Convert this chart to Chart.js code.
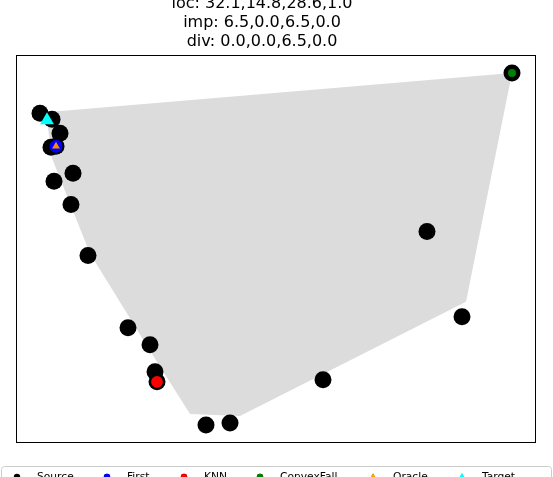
<!DOCTYPE html>
<html>
<head>
<meta charset="utf-8">
<script src="https://cdn.jsdelivr.net/npm/chart.js@4/dist/chart.umd.min.js"></script>
<style>
html,body{margin:0;padding:0;background:#fff;}
canvas{display:block;}
</style>
</head>
<body>
<canvas id="c" width="553" height="477"></canvas>
<script>
// Data (x right, y up)
const titleLines = ["loc: 32.1,14.8,28.6,1.0", "imp: 6.5,0.0,6.5,0.0", "div: 0.0,0.0,6.5,0.0"];
const legendLabels = ["Source", "First", "KNN", "ConvexFall", "Oracle", "Target"];

const sourceX = [40, 52, 60, 51, 56, 54, 73, 71, 88, 128, 150, 155, 157, 206, 230, 323, 427, 462, 512];
const sourceY = [364, 358, 344, 330, 331, 296, 304, 273, 222, 150, 133, 106, 96, 53, 55, 98, 246, 161, 404];

const hullX = [46, 512, 466, 240, 190, 150, 90, 52, 46];
const hullY = [365, 404, 176, 62, 64, 127, 224, 319, 365];

const firstX = [56], firstY = [331];
const knnX = [157], knnY = [96];
const convexX = [512], convexY = [404];
const oracleX = [56], oracleY = [331];
const targetX = [47], targetY = [357];

const xRange = [16, 536];
const yRange = [36, 422];

function pts(xs, ys) { return xs.map((x, i) => ({x: x, y: ys[i]})); }

const legendColors = ['#000000', '#0000ff', '#ff0000', '#008000', '#ffa500', '#00ffff'];
const legendStyles = ['circle', 'circle', 'circle', 'circle', 'triangle', 'triangle'];
const legendPos = [17, 107, 184, 260, 373, 462];

const decor = {
  id: 'decor',
  afterDraw(chart) {
    const ctx = chart.ctx;
    const a = chart.chartArea;
    ctx.save();
    // frame
    ctx.strokeStyle = '#000';
    ctx.lineWidth = 1;
    ctx.strokeRect(Math.round(a.left) + 0.5, Math.round(a.top) + 0.5, Math.round(a.right - a.left) - 1, Math.round(a.bottom - a.top));
    // title
    ctx.fillStyle = '#000';
    ctx.font = '16px "DejaVu Sans"';
    ctx.textAlign = 'center';
    ctx.textBaseline = 'alphabetic';
    titleLines.forEach((t, i) => ctx.fillText(t, 262, 8 + i * 19));
    // legend box
    ctx.strokeStyle = '#cccccc';
    ctx.fillStyle = 'rgba(255,255,255,0.8)';
    ctx.beginPath();
    if (ctx.roundRect) ctx.roundRect(1.5, 466.5, 550, 30, 3); else ctx.rect(1.5, 466.5, 550, 30);
    ctx.fill();
    ctx.stroke();
    ctx.font = '10.7px "DejaVu Sans"';
    ctx.textAlign = 'left';
    legendLabels.forEach((lab, i) => {
      const x = legendPos[i];
      Chart.helpers.drawPoint(ctx, {pointStyle: legendStyles[i], radius: 3.2, borderWidth: 0}, x, 477);
      ctx.fillStyle = legendColors[i];
      ctx.beginPath();
      if (legendStyles[i] === 'circle') {
        ctx.arc(x, 477, 3.2, 0, Math.PI * 2);
      } else {
        ctx.moveTo(x, 473); ctx.lineTo(x + 3.5, 479); ctx.lineTo(x - 3.5, 479); ctx.closePath();
      }
      ctx.fill();
      ctx.fillStyle = '#000';
      ctx.fillText(lab, x + 20, 480);
    });
    ctx.restore();
  }
};

new Chart(document.getElementById('c'), {
  type: 'scatter',
  data: {
    datasets: [
      {label: 'hull', data: pts(hullX, hullY), showLine: true, fill: 'shape', backgroundColor: '#dcdcdc', borderWidth: 0, borderColor: 'rgba(0,0,0,0)', pointRadius: 0, order: 10},
      {label: legendLabels[0], data: pts(sourceX, sourceY), backgroundColor: '#000', borderColor: '#000', borderWidth: 0, pointRadius: 8.5, order: 6},
      {label: legendLabels[1], data: pts(firstX, firstY), backgroundColor: '#0000ff', borderColor: '#000', borderWidth: 1.2, pointRadius: 7, order: 5},
      {label: legendLabels[2], data: pts(knnX, knnY), backgroundColor: '#ff0000', borderColor: '#000', borderWidth: 1.2, pointRadius: 6.5, order: 4},
      {label: legendLabels[3], data: pts(convexX, convexY), backgroundColor: '#008000', borderColor: '#008000', borderWidth: 0, pointRadius: 4, order: 3},
      {label: legendLabels[4], data: pts(oracleX, oracleY), backgroundColor: '#ff8c00', borderColor: '#ff8c00', borderWidth: 0, pointRadius: 4.5, pointStyle: 'triangle', order: 2},
      {label: legendLabels[5], data: pts(targetX, targetY), backgroundColor: '#00ffff', borderColor: '#00ffff', borderWidth: 0, pointRadius: 8, pointStyle: 'triangle', order: 1}
    ]
  },
  options: {
    responsive: false,
    animation: false,
    devicePixelRatio: 1,
    layout: {padding: {left: 16, top: 55, right: 17, bottom: 35}},
    scales: {
      x: {type: 'linear', min: xRange[0], max: xRange[1], display: false},
      y: {type: 'linear', min: yRange[0], max: yRange[1], display: false}
    },
    plugins: {legend: {display: false}, title: {display: false}, tooltip: {enabled: false}}
  },
  plugins: [decor]
});
</script>
</body>
</html>
